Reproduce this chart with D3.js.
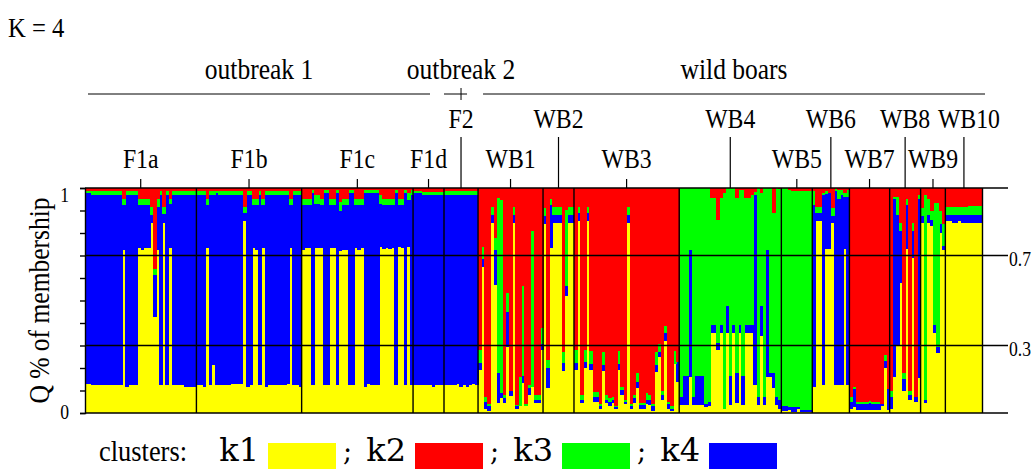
<!DOCTYPE html>
<html>
<head>
<meta charset="utf-8">
<script src="https://cdnjs.cloudflare.com/ajax/libs/d3/7.8.5/d3.min.js"></script>
<style>
  body { margin: 0; background: #fff; }
  text { font-family: "Liberation Serif", "Times New Roman", serif; fill: #000; }
</style>
</head>
<body>
<div class="svg"></div>
<script>
// populations, in plot order
var groups = ["F1a", "F1b", "F1c", "F1d", "F2", "WB1", "WB2", "WB3", "WB4", "WB5", "WB6", "WB7", "WB8", "WB9", "WB10"];
// labels that sit on the upper row (long tick)
var upperRow = ["F2", "WB2", "WB4", "WB6", "WB8", "WB10"];
var regionNames = ["outbreak 1", "outbreak 2", "wild boars"];
var regionGroups = [["F1a", "F1d"], ["F2", "F2"], ["WB1", "WB10"]];

var clusterKeys = ["k1", "k2", "k3", "k4"];
var clusterColors = ["#ffff00", "#ff0000", "#00ff00", "#0000ff"];
var rightTicks = [0.7, 0.3];
var leftLabels = [1, 0];

// Q membership per individual: [k1, k2, k3, k4]
var q_F1a = [
  [.13,.015,.005,.85],[.13,.015,.005,.85],[.125,.015,.015,.845],[.125,.015,.015,.845],
  [.125,.015,.015,.845],[.125,.015,.015,.845],[.125,.015,.015,.845],[.125,.015,.015,.845],
  [.125,.015,.015,.845],[.125,.015,.015,.845],[.125,.015,.015,.845],[.125,.015,.015,.845],
  [.724,.05,.026,.2],[.115,.015,.015,.855],[.125,.015,.015,.845],[.125,.015,.015,.845],
  [.125,.015,.015,.845],[.733,.049,.025,.193],[.724,.049,.025,.202],[.733,.049,.025,.193],
  [.733,.049,.025,.193],[.844,.084,.036,.036],[.428,.36,.025,.187],[.724,.049,.037,.19],
  [.125,.015,.015,.845],[.845,.083,.032,.04],[.125,.015,.015,.845],[.733,.049,.024,.194],
  [.125,.015,.015,.845],[.125,.015,.015,.845],[.125,.015,.015,.845],[.125,.015,.015,.845],
  [.116,.015,.015,.854],[.116,.015,.015,.854],[.116,.015,.015,.854],[.116,.015,.015,.854]
];
var q_F1b = [
  [.125,.015,.015,.845],[.125,.015,.015,.845],[.117,.015,.015,.853],[.733,.049,.025,.193],
  [.125,.015,.015,.845],[.213,.015,.015,.757],[.125,.015,.005,.855],[.125,.015,.015,.845],
  [.125,.015,.015,.845],[.125,.015,.015,.845],[.125,.015,.015,.845],[.129,.015,.015,.841],
  [.129,.015,.015,.841],[.129,.015,.015,.841],[.129,.015,.015,.841],[.855,.083,.027,.035],
  [.117,.015,.015,.853],[.125,.015,.015,.845],[.733,.049,.025,.193],[.724,.049,.025,.202],
  [.125,.015,.015,.845],[.733,.049,.025,.193],[.117,.015,.015,.853],[.125,.015,.015,.845],
  [.125,.015,.015,.845],[.125,.015,.015,.845],[.125,.015,.015,.845],[.125,.015,.015,.845],
  [.125,.015,.015,.845],[.129,.015,.015,.841],[.733,.049,.025,.193],[.125,.015,.015,.845],
  [.125,.015,.015,.845],[.117,.015,.015,.853]
];
var q_F1c = [
  [.724,.049,.027,.2],[.733,.049,.027,.191],[.733,.049,.027,.191],[.125,.01,.013,.852],
  [.733,.03,.04,.197],[.733,.03,.04,.197],[.733,.049,.027,.191],[.125,.01,.013,.852],
  [.125,.01,.013,.852],[.733,.049,.027,.191],[.733,.049,.027,.191],[.125,.01,.013,.852],
  [.72,.06,.04,.18],[.724,.049,.027,.2],[.724,.049,.027,.2],[.125,.01,.013,.852],
  [.125,.01,.013,.852],[.733,.049,.027,.191],[.724,.049,.027,.2],[.733,.049,.027,.191],
  [.117,.01,.013,.86],[.129,.01,.013,.848],[.125,.01,.013,.852],[.125,.01,.013,.852],
  [.125,.01,.013,.852],[.738,.03,.04,.192],[.728,.049,.027,.196],[.733,.049,.027,.191],
  [.728,.049,.027,.196],[.733,.049,.027,.191],[.125,.01,.013,.852],[.738,.049,.027,.186],
  [.733,.049,.027,.191],[.125,.01,.013,.852],[.738,.02,.035,.207],[.125,.01,.02,.845]
];
var q_F1d = [
  [.124,.015,.006,.855],[.124,.015,.006,.855],[.124,.015,.006,.855],[.124,.018,.013,.845],
  [.124,.018,.013,.845],[.124,.018,.013,.845],[.116,.018,.013,.853],[.124,.018,.013,.845],
  [.124,.018,.013,.845],[.124,.018,.013,.845]
];
var q_F2 = [
  [.124,.015,.015,.846],[.124,.015,.015,.846],[.124,.015,.015,.846],[.124,.015,.015,.846],
  [.129,.015,.015,.841],[.116,.015,.015,.854],[.124,.015,.015,.846],[.116,.015,.015,.854],
  [.124,.015,.015,.846],[.129,.015,.015,.841],[.124,.015,.015,.846]
];
var q_WB1 = [
  [.19,.72,.056,.034],[.65,.261,.055,.034],[.02,.93,.02,.03],[.01,.96,.01,.02],
  [.846,.086,.034,.034],[.569,.223,.052,.156],[.046,.044,.78,.13],[.065,.053,.86,.022],
  [.046,.92,.015,.019],[.295,.465,.084,.156],[.075,.9,0,.025],[.846,.086,.034,.034],
  [.02,.965,.005,.01],[.03,.84,.13,0],[.132,.435,.4,.033],[.03,.96,.01,0],
  [.08,.875,.015,.03],[.117,.193,.69,0],[.046,.92,.022,.012],[.046,.92,.022,.012],
  [.28,.623,.07,.027]
];
var q_WB2 = [
  [.84,.09,.035,.035],[.11,.765,.035,.09],[.735,.049,.027,.189],[.846,.086,.034,.034],
  [.846,.086,.034,.034],[.846,.086,.034,.034],[.187,.727,.049,.037],[.52,.098,.338,.044],
  [.846,.086,.034,.034],[.846,.086,.034,.034]
];
var q_WB3 = [
  [.19,.72,.056,.034],[.853,.086,.027,.034],[.046,.92,.022,.012],[.2,.719,.056,.025],
  [.853,.086,.027,.034],[.19,.724,.056,.03],[.05,.906,.022,.022],[.05,.906,.022,.022],
  [.02,.96,.01,.01],[.187,.73,.056,.027],[.046,.92,.022,.012],[.03,.935,.015,.02],
  [.046,.927,.015,.012],[.02,.97,.005,.005],[.19,.724,.056,.03],[.08,.883,.015,.022],
  [.04,.94,.01,.01],[.846,.086,.034,.034],[.02,.96,.01,.01],[.046,.919,.015,.02],
  [.11,.823,.037,.03],[.02,.955,.01,.015],[.02,.955,.01,.015],[.04,.91,.03,.02],
  [.035,.918,.022,.025],[.01,.96,.01,.02],[.184,.73,.056,.03],[.25,.695,.035,.02],
  [.06,.9,.02,.02],[.32,.614,.032,.034],[.02,.95,.01,.02],[.01,.97,.01,.01],
  [.22,.724,.056,0],[.14,.775,0,.085]
];
var q_WB4 = [
  [.036,0,.927,.037],[.036,0,.834,.13],[.036,0,.834,.13],[.16,0,.275,.565],
  [.036,0,.927,.037],[.036,0,.834,.13],[.036,0,.834,.13],[.036,0,.834,.13],
  [.025,0,.96,.015],[.03,0,.95,.02],[.354,.044,.565,.037],[.354,.044,.565,.037],
  [.28,.14,.55,.03],[.354,.044,.565,.037],[.02,.02,.96,0],[.354,0,.526,.12],
  [.036,0,.834,.13],[.354,0,.609,.037],[.046,.044,.78,.13],[.354,.01,.6,.036],
  [.036,.01,.824,.13],[.354,.044,.565,.037],[.354,.044,.565,.037],[.354,.03,.58,.036],
  [.124,.016,.015,.845],[.036,0,.927,.037],[.342,.02,.505,.133],[.036,0,.927,.037],
  [.16,0,.275,.565],[.16,0,.82,.02],[.11,.11,.71,.07],[.036,0,.927,.037],
  [.02,.005,.935,.04]
];
var q_WB5 = [
  [.01,0,.97,.02],[.01,0,.97,.02],[.015,.01,.965,.01],[.005,.015,.96,.02],
  [.005,.015,.96,.02],[.02,.015,.96,.005],[.003,.015,.97,.012],[.003,.015,.97,.012],
  [.003,.015,.97,.012],[.003,.015,.97,.012]
];
var q_WB6 = [
  [.117,.015,.06,.808],[.853,.086,.027,.034],[.853,.086,.027,.034],[.124,.02,.01,.846],
  [.73,.015,.01,.245],[.73,.02,0,.25],[.843,.089,.034,.034],[.124,.005,.01,.861],
  [.124,.01,.04,.826],[.124,.01,.02,.846],[.73,.02,.02,.23],[.124,.01,.03,.836]
];
var q_WB7 = [
  [.02,.93,.02,.03],[.028,.883,.012,.077],[.015,.95,.01,.025],[.015,.95,.01,.025],
  [.015,.95,.012,.023],[.015,.95,.01,.025],[.015,.945,.01,.03],[.015,.95,.01,.025],
  [.015,.95,.01,.025],[.015,.95,.012,.023],[.03,.96,0,.01],[.2,.74,.03,.03],
  [.015,.895,0,.09]
];
var q_WB8 = [
  [.02,.9,.03,.05],[.16,.04,.01,.79],[.3,.04,.08,.58],[.58,.157,.034,.229],
  [.1,.82,.03,.05],[.73,.049,.027,.194],[.06,.9,.02,.02],[.69,.157,.034,.119],
  [.05,.93,0,.02],[.154,.03,.02,.796]
];
var q_WB9 = [
  [.843,.09,.034,.033],[.046,.03,.914,.01],[.843,.05,.07,.037],[.83,.1,.04,.03],
  [.354,.067,.542,.037],[.265,.067,.638,.03],[.8,.1,.06,.04],[.724,.16,.097,.019]
];
var q_WB10 = [
  [.855,.083,.037,.025],[.855,.083,.037,.025],[.846,.083,.037,.034],[.846,.083,.037,.034],
  [.855,.083,.037,.025],[.846,.083,.037,.034],[.846,.083,.037,.034],[.846,.08,.04,.034],
  [.846,.08,.04,.034],[.846,.08,.04,.034],[.846,.08,.04,.034],[.846,.08,.04,.034]
];

var q = {
  F1a: q_F1a, F1b: q_F1b, F1c: q_F1c, F1d: q_F1d, F2: q_F2,
  WB1: q_WB1, WB2: q_WB2, WB3: q_WB3, WB4: q_WB4, WB5: q_WB5,
  WB6: q_WB6, WB7: q_WB7, WB8: q_WB8, WB9: q_WB9, WB10: q_WB10
};

var W = 1032, H = 469;
var svg = d3.select("div.svg").append("svg").attr("width", W).attr("height", H);
svg.append("rect").attr("width", W).attr("height", H).attr("fill", "#fff");

// narrow, tall serif like the original scan
function label(str, x, y, size, anchor, rot) {
  return svg.append("text")
    .attr("transform", "translate(" + x + "," + y + ")" + (rot ? " rotate(" + rot + ")" : "") + " scale(0.88,1)")
    .attr("text-anchor", anchor || "start")
    .style("font-size", size + "px")
    .text(str);
}

// one row per individual, normalised to 1
var rows = [];
groups.forEach(function (g) {
  q[g].forEach(function (v) {
    var s = v[0] + v[1] + v[2] + v[3];
    rows.push({ id: rows.length, group: g, k1: v[0] / s, k2: v[1] / s, k3: v[2] / s, k4: v[3] / s });
  });
});

var x = d3.scaleBand().domain(rows.map(function (d) { return d.id; })).range([85, 982.5]);
var y = d3.scaleLinear().domain([0, 1]).range([413, 188]);
var color = d3.scaleOrdinal().domain(clusterKeys).range(clusterColors);

// bottom to top: yellow, blue, green, red
var series = d3.stack().keys(["k1", "k4", "k3", "k2"])(rows);

svg.append("g").selectAll("g")
  .data(series).enter().append("g")
  .attr("fill", function (d) { return color(d.key); })
  .selectAll("rect")
  .data(function (d) { return d; }).enter().append("rect")
  .attr("x", function (d) { return x(d.data.id); })
  .attr("width", x.bandwidth() + 0.6)
  .attr("y", function (d) { return y(d[1]); })
  .attr("height", function (d) { return Math.max(0, y(d[0]) - y(d[1])); })
  .attr("shape-rendering", "crispEdges");

// group extents
var gStart = {}, gEnd = {};
groups.forEach(function (g) {
  var ids = rows.filter(function (d) { return d.group === g; }).map(function (d) { return d.id; });
  gStart[g] = x(ids[0]);
  gEnd[g] = x(ids[ids.length - 1]) + x.bandwidth();
});

// horizontal reference lines
svg.append("g").selectAll("line")
  .data([1, 0.7, 0.3, 0]).enter().append("line")
  .attr("x1", 85).attr("x2", 1008)
  .attr("y1", function (d) { return y(d); })
  .attr("y2", function (d) { return y(d); })
  .attr("stroke", "#000").attr("stroke-width", 1.5);

// separators between populations
svg.append("g").selectAll("line")
  .data(groups).enter().append("line")
  .attr("x1", function (g) { return gEnd[g]; })
  .attr("x2", function (g) { return gEnd[g]; })
  .attr("y1", y(1)).attr("y2", y(0))
  .attr("stroke", "#000").attr("stroke-width", 1.4);

// left axis with 0.1 ticks
var axis = svg.append("g").attr("transform", "translate(85,0)")
  .call(d3.axisLeft(y).tickValues(d3.range(0, 1.001, 0.1)).tickSize(5).tickFormat(""));
axis.selectAll("path, line").attr("stroke", "#000").attr("stroke-width", 1.4);

leftLabels.forEach(function (d) {
  label(d, 69, d === 1 ? y(d) + 14 : y(d) + 6, 20, "end");
});
rightTicks.forEach(function (d) {
  label(d, 1009, y(d) + 10, 20, "start");
});

label("Q % of membership", 49, y(0.5), 29, "middle", -90);

// population labels and ticks
var labelShift = { WB10: 5 };
groups.forEach(function (g) {
  var cx = (gStart[g] + gEnd[g]) / 2;
  var up = upperRow.indexOf(g) >= 0;
  svg.append("line")
    .attr("x1", cx).attr("x2", cx)
    .attr("y1", up ? 137 : 179).attr("y2", y(1))
    .attr("stroke", "#000").attr("stroke-width", 1.2);
  label(g, cx + (labelShift[g] || 0), up ? 128 : 168, 27, "middle");
});

// region labels
var regionLines = [
  [gStart.F1a + 3, gEnd.F1d - 14],
  [gStart.F2, gEnd.F2 - 11],
  [gStart.WB1 + 5, gEnd.WB10 + 2.5]
];
regionNames.forEach(function (name, i) {
  var r = regionLines[i];
  svg.append("line")
    .attr("x1", r[0]).attr("x2", r[1]).attr("y1", 94).attr("y2", 94)
    .attr("stroke", "#000").attr("stroke-width", 1);
  var cx = i === 1 ? (gStart.F2 + gEnd.F2) / 2 : (r[0] + r[1]) / 2;
  label(name, cx, 79, 29, "middle");
});
var f2c = (gStart.F2 + gEnd.F2) / 2;
svg.append("line").attr("x1", f2c).attr("x2", f2c).attr("y1", 88).attr("y2", 100)
  .attr("stroke", "#000").attr("stroke-width", 1);

label("K = 4", 8, 37, 28, "start");

// legend
label("clusters:", 187, 461, 30, "end");
clusterKeys.forEach(function (k, i) {
  var rx = 268 + i * 147;
  if (i) {
    svg.append("text")
      .attr("x", rx - 147 + 75).attr("y", 461)
      .style("font-family", "'DejaVu Serif', serif")
      .style("font-size", "27px")
      .text(";");
  }
  svg.append("text")
    .attr("x", rx - 9).attr("y", 461).attr("text-anchor", "end")
    .style("font-family", "'DejaVu Serif', serif")
    .style("font-size", "32px")
    .text(k);
  svg.append("rect")
    .attr("x", rx).attr("y", 443).attr("width", 68).attr("height", 27)
    .attr("fill", color(k));
});
</script>
</body>
</html>
